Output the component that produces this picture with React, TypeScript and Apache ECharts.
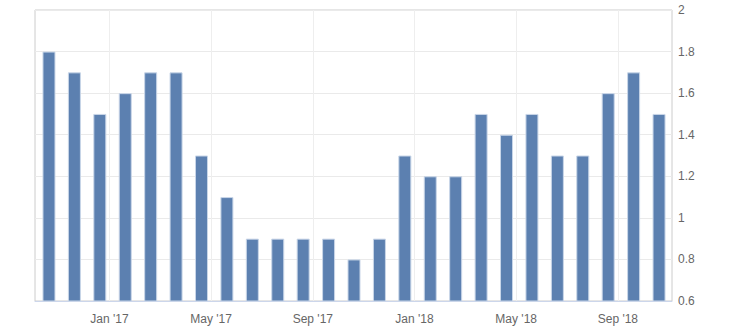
import React, { useEffect, useRef } from "react";
import * as echarts from "echarts";

// Monthly observations, Oct 2016 – Oct 2018 (month index: 0 = Jan 2017)
const monthIndex: number[] = [
  -3, -2, -1, 0, 1, 2, 3, 4, 5, 6, 7, 8, 9, 10, 11, 12, 13, 14, 15, 16, 17, 18, 19, 20, 21,
];
const values: number[] = [
  1.8, 1.7, 1.5, 1.6, 1.7, 1.7, 1.3, 1.1, 0.9, 0.9, 0.9, 0.9, 0.8,
  0.9, 1.3, 1.2, 1.2, 1.5, 1.4, 1.5, 1.3, 1.3, 1.6, 1.7, 1.5,
];
// x-axis labels at month starts
const tickMonthIndex: number[] = [0, 4, 8, 12, 16, 20];
const monthNames = ["Jan", "Feb", "Mar", "Apr", "May", "Jun", "Jul", "Aug", "Sep", "Oct", "Nov", "Dec"];
const yMin = 0.6;
const yMax = 2;
const yStep = 0.2;

// observation falls ~62% through its month
const OBS_OFFSET = 0.62;

export default function App() {
  const ref = useRef<HTMLDivElement>(null);
  useEffect(() => {
    if (!ref.current) return;
    const chart = echarts.init(ref.current, undefined, { renderer: "svg" });
    const labelFor = (v: number) => {
      const m = Math.round(v);
      const year = 2017 + Math.floor(m / 12);
      const mon = ((m % 12) + 12) % 12;
      return monthNames[mon] + " '" + String(year).slice(2);
    };
    chart.setOption({
      animation: false,
      backgroundColor: "#ffffff",
      grid: {
        left: 35,
        right: 58,
        top: 10,
        bottom: 30,
        show: true,
        borderColor: "#cccccc",
        borderWidth: 1,
      },
      xAxis: {
        type: "value",
        min: -2.93,
        max: 22.13,
        axisLine: { show: true, lineStyle: { color: "#ccd6eb", width: 1 } },
        axisTick: { show: false, customValues: tickMonthIndex },
        axisLabel: {
          customValues: tickMonthIndex,
          color: "#666666",
          fontSize: 12,
          fontFamily: "Liberation Sans, Arial, sans-serif",
          margin: 12,
          formatter: (v: number) => labelFor(v),
        },
        splitLine: { show: true, lineStyle: { color: "#eeeeee", width: 1 } },
      },
      yAxis: {
        type: "value",
        position: "right",
        min: yMin,
        max: yMax,
        interval: yStep,
        axisLine: { show: false },
        axisTick: { show: false },
        axisLabel: {
          color: "#666666",
          fontSize: 12,
          fontFamily: "Liberation Sans, Arial, sans-serif",
          margin: 6,
          formatter: (v: number) => String(Math.round(v * 10) / 10),
        },
        splitLine: { show: true, lineStyle: { color: "#eaeaea", width: 1 } },
      },
      series: [
        {
          type: "bar",
          data: monthIndex.map((m, i) => [m + OBS_OFFSET, values[i]]),
          barWidth: 13,
          itemStyle: {
            color: "#5c80b0",
            borderColor: "#c9d6e8",
            borderWidth: 1,
          },
        },
      ],
    });
    return () => chart.dispose();
  }, []);
  return (
    <div
      ref={ref}
      style={{ position: "fixed", left: 0, top: 0, width: 730, height: 331 }}
    />
  );
}
